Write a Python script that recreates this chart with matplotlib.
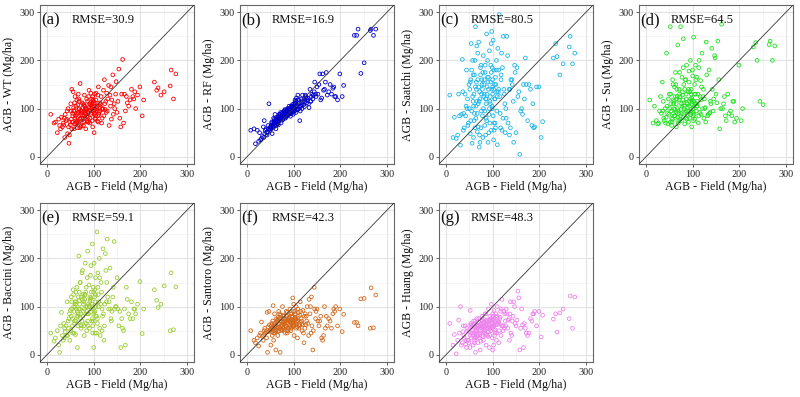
import matplotlib
matplotlib.use("Agg")
import matplotlib.pyplot as plt
import numpy as np

plt.rcParams['font.family'] = ['Liberation Serif', 'DejaVu Serif']

# Field AGB (shared x values across all panels)
field = [
    276, 271, 266, 264, 251, 244, 238, 235, 230, 207, 204, 199,
    8, 18, 22, 27, 31, 35, 38, 41, 44, 47, 50, 52, 54, 56, 58, 60, 62, 63, 65, 67,
    68, 70, 71, 73, 74, 76, 77, 79, 80, 82, 83, 84, 86, 87, 88, 90, 91, 92, 93, 95,
    96, 97, 98, 99, 100, 101, 102, 103, 104, 105, 107, 108, 110, 112, 114, 116, 118, 120, 123, 126,
    129, 132, 135, 138, 141, 144, 147, 150, 154, 158, 162, 166, 170, 175, 181, 186, 190, 194, 25, 33,
    39, 45, 49, 53, 57, 59, 61, 64, 66, 69, 72, 75, 78, 81, 85, 89, 94, 97, 100, 103,
    106, 109, 111, 113, 117, 121, 125, 130, 136, 142, 148, 156, 164, 172, 184, 15, 29, 37, 43, 51,
    55, 58, 62, 66, 70, 73, 77, 80, 84, 87, 91, 94, 98, 101, 104, 108, 115, 122, 128, 139,
    46, 52, 57, 61, 65, 69, 72, 76, 79, 83, 86, 89, 92, 96, 99, 102, 106, 110, 119, 133,
    36, 48, 55, 60, 64, 68, 71, 75, 78, 82, 85, 88, 93, 97, 100, 105, 113, 124, 145, 160,
    42, 53, 59, 63, 67, 74, 81, 86, 90, 95, 99, 103, 109, 118, 127, 137, 152, 168, 178, 188,
]

wt = [
    172, 120, 180, 147, 135, 128, 143, 138, 155, 118, 85, 145,
    88, 72, 50, 65, 82, 70, 40, 75, 48, 28, 66, 95, 72, 135, 58, 80, 105, 70, 60, 92,
    120, 78, 152, 64, 95, 86, 110, 72, 128, 90, 58, 100, 75, 115, 82, 138, 96, 70, 108, 88,
    120, 104, 62, 95, 112, 50, 130, 98, 85, 118, 100, 74, 145, 92, 108, 125, 80, 100, 160, 115,
    95, 148, 128, 78, 170, 110, 130, 92, 182, 62, 202, 130, 125, 105, 140, 120, 100, 128, 78, 62,
    88, 100, 72, 140, 95, 68, 85, 118, 74, 100, 62, 92, 80, 105, 120, 72, 132, 110, 94, 80,
    102, 128, 88, 112, 70, 138, 98, 120, 105, 88, 156, 80, 70, 112, 125, 70, 58, 80, 95, 110,
    85, 96, 75, 108, 60, 90, 102, 85, 95, 72, 110, 102, 125, 90, 78, 96, 110, 85, 132, 118,
    62, 78, 102, 68, 88, 115, 96, 70, 108, 88, 98, 125, 80, 100, 115, 90, 105, 72, 98, 65,
    66, 45, 90, 125, 72, 98, 80, 112, 65, 100, 85, 92, 112, 75, 105, 132, 95, 110, 100, 130,
    78, 58, 112, 90, 130, 80, 95, 75, 102, 92, 118, 112, 85, 100, 92, 145, 115, 95, 118, 135,
]

rf = [
    265, 252, 265, 262, 195, 173, 265, 252, 252, 148, 125, 172,
    55, 27, 55, 50, 38, 62, 48, 58, 52, 110, 62, 60, 48, 68, 72, 64, 58, 78, 70, 66,
    80, 75, 88, 70, 82, 92, 78, 85, 95, 80, 90, 82, 98, 86, 92, 88, 100, 95, 84, 102,
    92, 105, 98, 88, 110, 100, 95, 108, 115, 92, 106, 118, 100, 112, 95, 120, 108, 115, 104, 125,
    118, 110, 140, 125, 120, 135, 130, 145, 150, 118, 172, 140, 175, 135, 130, 145, 125, 118, 32, 42,
    55, 65, 58, 72, 62, 75, 68, 82, 72, 88, 78, 84, 90, 96, 88, 92, 104, 98, 95, 112,
    105, 98, 118, 102, 112, 108, 128, 122, 115, 128, 125, 172, 138, 128, 142, 58, 35, 75, 45, 58,
    62, 70, 75, 78, 85, 82, 88, 92, 95, 100, 96, 90, 102, 100, 110, 98, 105, 120, 112, 130,
    58, 65, 80, 72, 68, 80, 92, 76, 88, 84, 95, 88, 100, 95, 104, 96, 122, 110, 128, 102,
    40, 55, 65, 88, 75, 72, 82, 90, 80, 92, 85, 98, 90, 108, 100, 102, 75, 115, 155, 122,
    50, 70, 78, 66, 82, 86, 98, 90, 105, 98, 92, 118, 128, 100, 122, 115, 130, 155, 150, 125,
]

saatchi = [
    215, 193, 250, 228, 193, 170, 208, 235, 205, 73, 40, 145,
    128, 82, 38, 130, 24, 202, 90, 130, 180, 65, 100, 155, 235, 28, 115, 75, 200, 270, 140, 52,
    160, 238, 20, 120, 185, 95, 150, 40, 210, 130, 65, 175, 110, 255, 145, 30, 165, 88, 220, 125,
    190, 55, 140, 105, 160, 242, 35, 180, 120, 70, 150, 200, 25, 135, 295, 90, 170, 55, 250, 110,
    80, 210, 140, 60, 160, 115, 190, 50, 125, 5, 100, 150, 205, 75, 140, 110, 62, 145, 45, 88,
    60, 100, 150, 75, 125, 40, 170, 105, 230, 62, 135, 190, 85, 150, 120, 200, 70, 175, 130, 55,
    165, 95, 225, 140, 60, 185, 130, 250, 45, 150, 175, 135, 88, 150, 65, 40, 85, 55, 105, 140,
    95, 170, 60, 115, 145, 30, 160, 100, 190, 75, 140, 115, 260, 85, 150, 180, 125, 80, 100, 160,
    120, 48, 200, 90, 155, 110, 45, 130, 175, 95, 120, 165, 50, 155, 100, 140, 60, 125, 215, 70,
    135, 70, 180, 130, 80, 215, 115, 60, 140, 160, 45, 130, 100, 235, 145, 120, 180, 140, 30, 95,
    85, 160, 105, 145, 90, 170, 125, 80, 155, 110, 185, 70, 135, 160, 50, 140, 185, 120, 150, 60,
]

su = [
    230, 200, 240, 233, 108, 115, 200, 237, 228, 100, 75, 190,
    118, 105, 75, 70, 125, 155, 80, 100, 215, 68, 130, 270, 95, 72, 150, 115, 85, 175, 62, 125,
    232, 90, 140, 78, 270, 110, 165, 82, 245, 100, 68, 160, 120, 190, 88, 135, 72, 155, 105, 200,
    95, 140, 62, 118, 180, 85, 248, 105, 130, 78, 160, 95, 115, 70, 200, 125, 88, 215, 140, 100,
    238, 85, 180, 115, 225, 95, 210, 130, 240, 58, 275, 110, 85, 130, 95, 115, 72, 80, 68, 90,
    75, 105, 88, 130, 78, 110, 145, 92, 120, 70, 175, 98, 128, 150, 80, 110, 135, 92, 168, 115,
    190, 105, 130, 85, 158, 100, 120, 170, 90, 140, 205, 160, 100, 75, 85, 70, 95, 115, 82, 100,
    80, 118, 98, 140, 75, 125, 105, 185, 92, 112, 140, 80, 122, 100, 150, 110, 92, 125, 72, 110,
    90, 72, 160, 85, 110, 95, 130, 75, 118, 140, 95, 102, 178, 88, 115, 75, 130, 105, 145, 88,
    95, 120, 65, 100, 150, 82, 118, 90, 135, 105, 160, 78, 115, 130, 92, 110, 185, 80, 120, 100,
    70, 110, 90, 125, 100, 85, 112, 130, 95, 120, 108, 88, 165, 118, 102, 92, 112, 125, 90, 115,
]

baccini = [
    141, 52, 170, 50, 143, 105, 98, 113, 135, 95, 44, 152,
    45, 35, 50, 5, 88, 30, 55, 60, 40, 75, 92, 120, 60, 135, 45, 100, 70, 110, 15, 85,
    205, 95, 150, 55, 120, 175, 80, 110, 40, 190, 130, 65, 100, 215, 85, 145, 55, 120, 165, 95,
    105, 230, 60, 140, 85, 190, 120, 45, 160, 100, 255, 75, 125, 200, 40, 150, 95, 220, 60, 175,
    240, 95, 180, 70, 120, 235, 100, 160, 60, 15, 55, 95, 140, 85, 110, 95, 85, 105, 20, 40,
    48, 70, 30, 95, 125, 65, 105, 140, 80, 112, 62, 170, 90, 125, 50, 105, 185, 75, 130, 110,
    80, 170, 110, 55, 130, 85, 210, 120, 95, 140, 100, 90, 50, 115, 75, 28, 60, 35, 110, 50,
    75, 90, 130, 60, 105, 85, 125, 95, 140, 70, 100, 118, 45, 88, 125, 65, 105, 30, 150, 90,
    55, 80, 100, 42, 90, 130, 75, 115, 60, 100, 160, 85, 110, 70, 95, 135, 45, 100, 80, 110,
    65, 85, 45, 110, 80, 95, 150, 70, 105, 125, 90, 60, 115, 100, 15, 80, 160, 105, 95, 75,
    40, 110, 70, 95, 120, 60, 115, 85, 100, 130, 70, 90, 140, 50, 110, 75, 95, 20, 75, 95,
]

santoro = [
    124, 56, 139, 55, 117, 116, 60, 67, 67, 84, 48, 95,
    50, 25, 35, 40, 68, 30, 55, 48, 5, 90, 52, 60, 40, 102, 50, 58, 10, 75, 55, 48,
    90, 58, 5, 70, 62, 100, 55, 80, 65, 45, 75, 60, 88, 70, 50, 78, 62, 95, 68, 55,
    80, 72, 118, 60, 90, 40, 75, 85, 65, 100, 70, 35, 88, 60, 110, 75, 50, 92, 80, 62,
    100, 40, 85, 120, 10, 140, 75, 95, 60, 80, 30, 100, 80, 75, 55, 95, 100, 60, 18, 38,
    45, 58, 50, 65, 45, 85, 52, 68, 40, 75, 60, 50, 82, 65, 72, 55, 85, 70, 62, 78,
    68, 95, 55, 82, 70, 45, 85, 65, 100, 50, 90, 70, 40, 60, 85, 30, 45, 50, 88, 20,
    55, 62, 48, 70, 85, 52, 68, 58, 90, 65, 72, 50, 80, 62, 75, 58, 90, 25, 70, 60,
    48, 55, 30, 60, 72, 50, 82, 62, 55, 70, 45, 75, 58, 85, 68, 72, 55, 80, 62, 115,
    40, 62, 70, 45, 58, 65, 75, 52, 68, 60, 80, 55, 70, 62, 105, 75, 62, 55, 95, 35,
    35, 48, 65, 52, 78, 60, 70, 50, 75, 65, 58, 90, 70, 65, 80, 45, 70, 55, 70, 90,
]

huang = [
    120, 55, 122, 75, 95, 87, 47, 85, 74, 82, 37, 90,
    65, 42, 2, 72, 100, 25, 40, 60, 15, 30, 48, 92, 35, 55, 20, 45, 70, 5, 38, 60,
    25, 75, 50, 10, 62, 40, 80, 55, 30, 68, 45, 85, 20, 60, 72, 38, 95, 58, 15, 70,
    50, 105, 65, 35, 80, 60, 20, 92, 70, 45, 85, 30, 100, 65, 50, 78, 40, 115, 60, 85,
    95, 55, 75, 110, 40, 80, 100, 60, 132, 10, 95, 15, 55, 40, 75, 85, 90, 60, 30, 20,
    35, 55, 25, 62, 42, 70, 30, 50, 75, 40, 62, 28, 70, 48, 85, 55, 40, 75, 10, 62,
    80, 45, 70, 25, 90, 60, 55, 85, 30, 70, 65, 118, 62, 45, 70, 20, 45, 60, 30, 15,
    45, 60, 35, 55, 68, 42, 58, 75, 52, 65, 48, 80, 60, 72, 40, 65, 75, 50, 60, 45,
    50, 40, 62, 25, 52, 60, 45, 65, 38, 58, 70, 48, 62, 55, 72, 58, 48, 80, 60, 72,
    48, 30, 58, 65, 48, 55, 35, 60, 72, 50, 62, 40, 72, 58, 85, 52, 68, 90, 110, 55,
    22, 65, 40, 58, 35, 52, 60, 42, 68, 55, 60, 75, 62, 95, 70, 85, 72, 65, 45, 85,
]

panel_tags = ["(a)", "(b)", "(c)", "(d)", "(e)", "(f)", "(g)"]
products = ["WT", "RF", "Saatchi", "Su", "Baccini", "Santoro", "Huang"]
rmse = [30.9, 16.9, 80.5, 64.5, 59.1, 42.3, 48.3]
series = [wt, rf, saatchi, su, baccini, santoro, huang]
colors = ["#FF0000", "#0000CD", "#1CB5E8", "#22E022", "#9ACD32", "#D2691E", "#EE82EE"]
ticks = [0, 100, 200, 300]

W, H = 800, 397
fig = plt.figure(figsize=(8.0, 3.97), dpi=100)

col_left = [40, 240, 439, 639]
row_top = [5, 203]
aw, ah = 154, 159

lims = (-15, 315)
for i in range(7):
    r, c = divmod(i, 4)
    l = col_left[c]
    t = row_top[r]
    ax = fig.add_axes([l / W, 1 - (t + ah) / H, aw / W, ah / H])
    ax.set_facecolor("white")
    ax.set_xlim(lims)
    ax.set_ylim(lims)
    for v in [50, 150, 250]:
        ax.axvline(v, color="#F0F0F0", lw=0.4, zorder=0)
        ax.axhline(v, color="#F0F0F0", lw=0.4, zorder=0)
    for v in ticks:
        ax.axvline(v, color="#E3E3E3", lw=0.8, zorder=0)
        ax.axhline(v, color="#E3E3E3", lw=0.8, zorder=0)
    ax.scatter(field, series[i], s=7, facecolors="none", edgecolors=colors[i],
               linewidths=0.6, zorder=2)
    ax.plot(lims, lims, color="#333333", lw=0.6, zorder=3)
    ax.set_xticks(ticks)
    ax.set_yticks(ticks)
    ax.tick_params(axis="both", direction="out", length=2.5, width=0.6,
                   color="#444444", labelsize=7.3, pad=1.5, labelcolor="#222222")
    for sp in ax.spines.values():
        sp.set_color("#666666")
        sp.set_linewidth(0.8)
    ax.set_xlabel("AGB - Field (Mg/ha)", fontsize=8.6, labelpad=2, color="#111111")
    ax.set_ylabel("AGB - " + products[i] + " (Mg/ha)", fontsize=8.6, labelpad=3,
                  color="#111111")
    ax.text(-12, 284, panel_tags[i], fontsize=12, ha="left", va="center", color="#111111")
    ax.text(53, 284, "RMSE=%.1f" % rmse[i], fontsize=9, ha="left", va="center",
            color="#111111")

fig.savefig("out.png", dpi=100, facecolor="white")
